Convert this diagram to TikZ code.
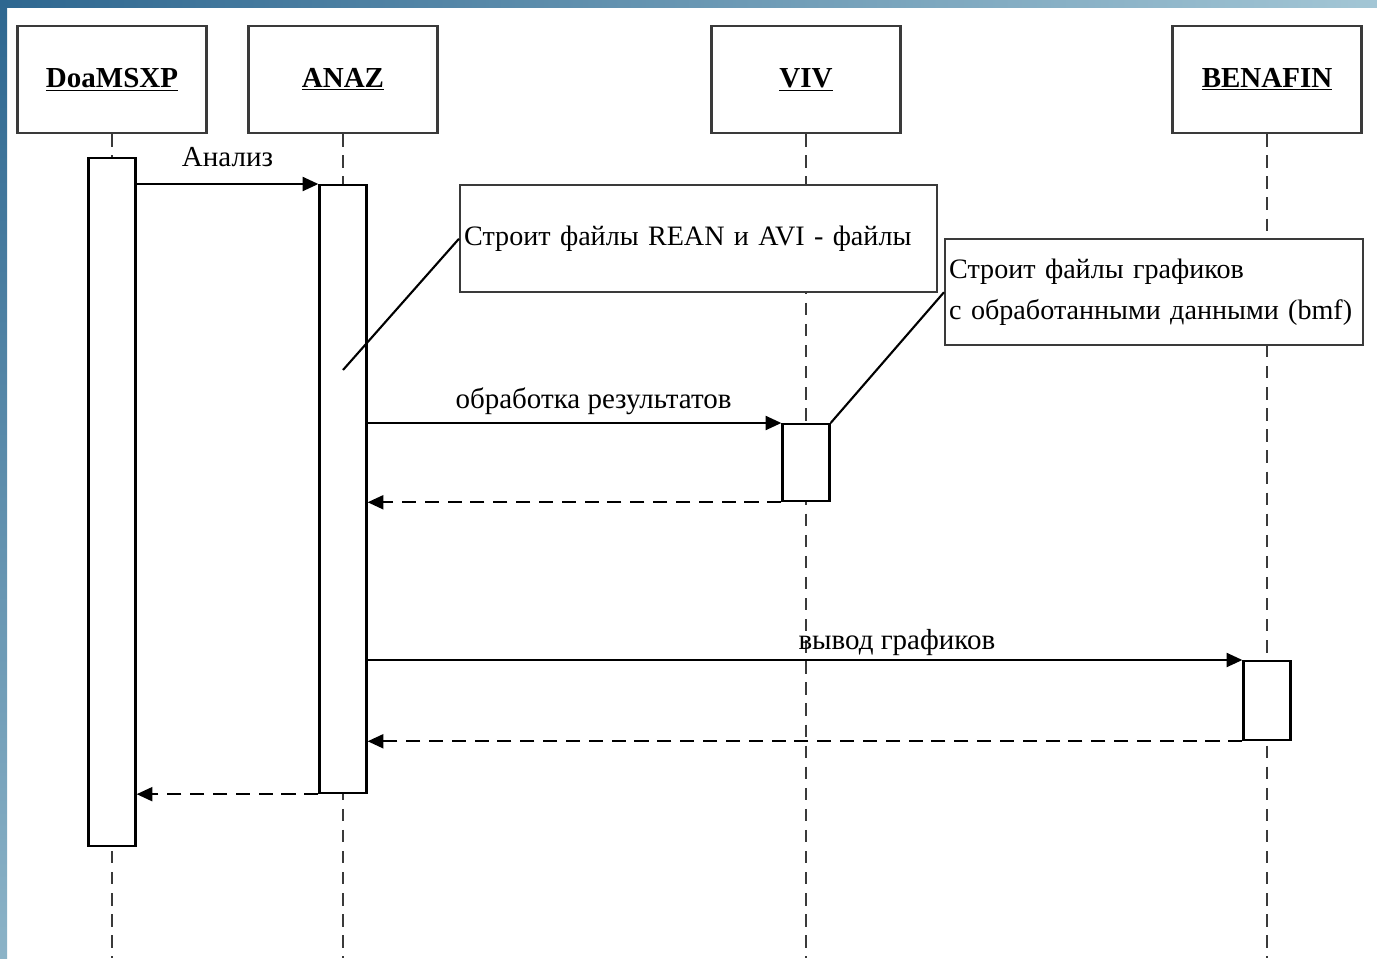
\documentclass[tikz,border=0pt]{standalone}
\usepackage{fontspec}
\setmainfont{Liberation Serif}
\usepackage{xcolor}
\usepackage{tikz}
\usetikzlibrary{shapes,arrows.meta,positioning,fit,calc}

\definecolor{framedark}{HTML}{2E6790}
\definecolor{framelight}{HTML}{A3C6D5}
\definecolor{boxgray}{HTML}{3A3A3A}
\newcommand{\seqfont}{\fontsize{16.5}{23}\selectfont}
\newcommand{\notefont}{\fontsize{16}{23.5}\selectfont}

\tikzset{
  headbox/.style={draw=boxgray, line width=1.4pt, fill=white,
    minimum width=3.78cm, minimum height=2.14cm, font=\seqfont\bfseries},
  actbar/.style={draw, line width=1.3pt, fill=white, minimum width=0.94cm,
    inner sep=0pt, anchor=north},
  lifeline/.style={draw=boxgray, line width=1.2pt, dash pattern=on 7pt off 5pt},
  notebox/.style={draw=boxgray, line width=1.4pt, fill=white, align=left,
    inner xsep=0.08cm, anchor=north west, font=\notefont},
  msg/.style={line width=1.2pt, -{Triangle[length=9pt,width=8pt]}},
  retmsg/.style={msg, dash pattern=on 8pt off 5pt},
  msglabel/.style={font=\seqfont, inner sep=2pt}
}

\begin{document}
\begin{tikzpicture}[x=0.02cm, y=-0.02cm]
    \useasboundingbox (0,0) rectangle (1377,958);

    % Frame strips
    \shade[left color=framedark, right color=framelight] (0,0) rectangle (1377,7);
    \shade[top color=framedark, bottom color=framelight!80!framedark] (0,0) rectangle (7,958);

    % Objects
    \node[headbox] (doa) at (112,79.5) {\underline{DoaMSXP}};
    \node[headbox] (anaz) at (343,79.5) {\underline{ANAZ}};
    \node[headbox] (viv) at (806,79.5) {\underline{VIV}};
    \node[headbox] (ben) at (1267,79.5) {\underline{BENAFIN}};

    % Lifelines
    \coordinate (doaend) at (112,958);
    \coordinate (anazend) at (343,958);
    \coordinate (vivend) at (806,958);
    \coordinate (benend) at (1267,958);
    \draw[lifeline] (doa.south) -- (doaend);
    \draw[lifeline] (anaz.south) -- (anazend);
    \draw[lifeline] (viv.south) -- (vivend);
    \draw[lifeline] (ben.south) -- (benend);

    % Activations
    \node[actbar, minimum height=13.76cm] (doabar) at (112,157) {};
    \node[actbar, minimum height=12.16cm] (anazbar) at (343,184) {};
    \node[actbar, minimum height=1.54cm] (vivbar) at (806,423) {};
    \node[actbar, minimum height=1.58cm] (benbar) at (1267,660) {};

    % Messages
    \draw[msg] (doabar.east |- anazbar.north) -- (anazbar.north west)
        node[msglabel, midway, above=7pt] (m1) {Анализ};
    \draw[msg] (anazbar.east |- vivbar.north) -- (vivbar.north west)
        node[msglabel, pos=0.546, above=2pt] (m2) {обработка результатов};
    \draw[retmsg] (vivbar.south west) -- (anazbar.east |- vivbar.south);
    \draw[msg] (anazbar.east |- benbar.north) -- (benbar.north west)
        node[msglabel, pos=0.605, above=0pt] (m3) {вывод графиков};
    \draw[retmsg] (benbar.south west) -- (anazbar.east |- benbar.south);
    \draw[retmsg] (anazbar.south west) -- (doabar.east |- anazbar.south);

    % Notes
    \node[notebox, text width=9.38cm, minimum height=2.14cm] (note1) at (459,184)
        {Строит файлы REAN и AVI - файлы};
    \coordinate (anchor1) at (343,370);
    \draw[line width=1.2pt] (anchor1) -- (note1.west);

    \node[notebox, text width=8.2cm, minimum height=2.12cm] (note2) at (944,238)
        {Строит файлы графиков\\с~обработанными данными~(bmf)};
    \draw[line width=1.2pt] (vivbar.north east) -- (note2.west);
\end{tikzpicture}
\end{document}
